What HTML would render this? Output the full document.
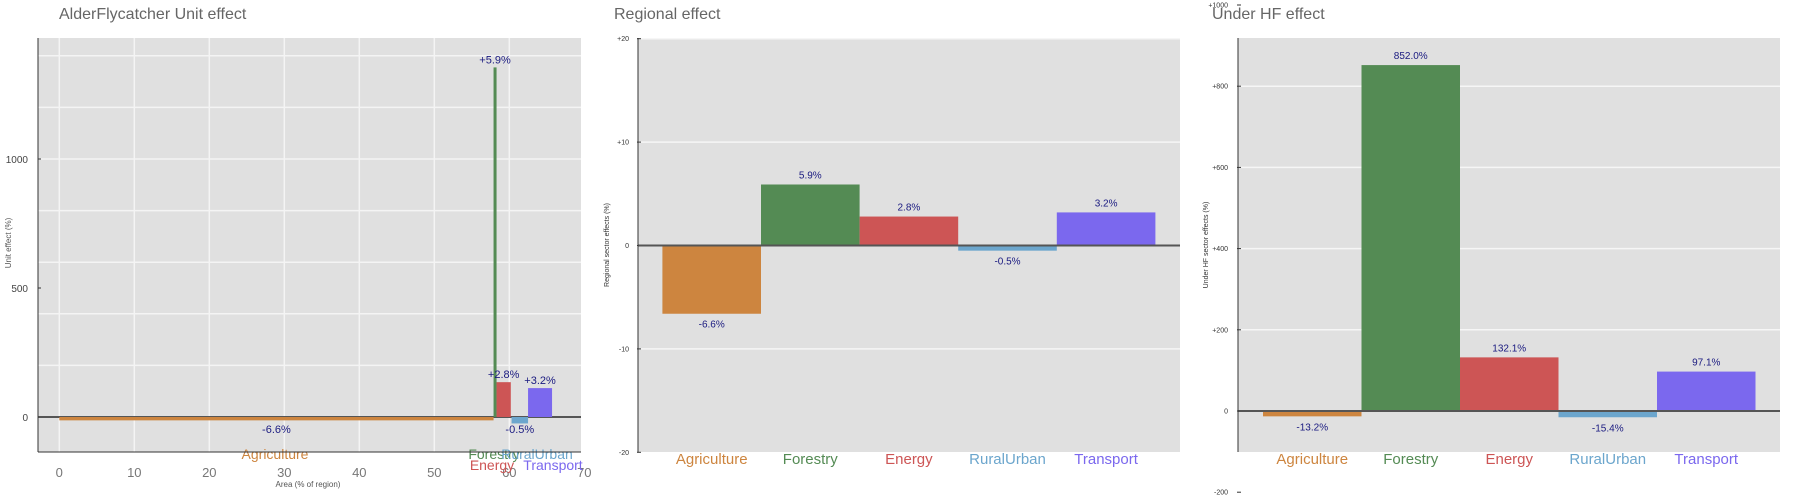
<!DOCTYPE html>
<html><head><meta charset="utf-8"><style>
html,body{margin:0;padding:0;background:#fff;}
svg{display:block;font-family:"Liberation Sans",sans-serif;}
</style></head><body>
<svg id="chart" width="1800" height="500" viewBox="0 0 1800 500" xmlns="http://www.w3.org/2000/svg"></svg>
<script>
const categories = ["Agriculture","Forestry","Energy","RuralUrban","Transport"];
const colors = ["#cd853f","#548b54","#cd5555","#6ca6cd","#7b68ee"];
// Panel 1: unit effect (area widths and unit effect heights)
const unitAreas = [57.9, 0.4, 1.9, 2.2, 3.2];
const unitAreaStarts = [0, 57.9, 58.3, 60.3, 62.5];
const unitValues = [-13, 1355, 135, -25, 112];
const unitLabels = ["-6.6%","+5.9%","+2.8%","-0.5%","+3.2%"];
const unitXTicks = [0,10,20,30,40,50,60,70];
const unitYTicks = [0,500,1000];
// Panel 2: regional effect
const regionalValues = [-6.6, 5.9, 2.8, -0.5, 3.2];
const regionalLabels = ["-6.6%","5.9%","2.8%","-0.5%","3.2%"];
const regionalTicks = [-20,-10,0,10,20];
const regionalTickLabels = ["-20","-10","0","+10","+20"];
// Panel 3: under HF effect
const hfValues = [-13.2, 852.0, 132.1, -15.4, 97.1];
const hfLabels = ["-13.2%","852.0%","132.1%","-15.4%","97.1%"];
const hfTicks = [-200,0,200,400,600,800,1000];
const hfTickLabels = ["-200","0","+200","+400","+600","+800","+1000"];

const svg = document.getElementById('chart');
const NS = "http://www.w3.org/2000/svg";
function mk(tag, attrs, parent){const e=document.createElementNS(NS,tag);for(const k in attrs)e.setAttribute(k,attrs[k]);(parent||svg).appendChild(e);return e;}
function txt(s, attrs, parent){const e=mk('text',attrs,parent);e.textContent=s;return e;}

// ---------- Panel 1 ----------
(function(){
  const L=38,R=581,T=38,B=452;
  const xs=v=>59.3+v*7.5;
  const ys=v=>417-v*(129/500);
  const g=mk('g',{});
  
  
  const t=txt("AlderFlycatcher Unit effect",{x:59,y:19,'font-size':16,fill:'#666'},g);
  
  
  const bg=mk('rect',{x:L,y:T,width:R-L,height:B-T,fill:'#e0e0e0'},g);
  
  
  for(let v=200;v<=1400;v+=200){const l=mk('line',{x1:L,x2:R,y1:ys(v),y2:ys(v),stroke:'#f4f4f4','stroke-width':1.5},g);
    
    }
  unitXTicks.forEach(v=>{ if(v<70){const l=mk('line',{x1:xs(v),x2:xs(v),y1:T,y2:B,stroke:'#f4f4f4','stroke-width':1.5},g);
    
    }
    const tl=txt(String(v),{x:xs(v),y:477,'font-size':13,fill:'#777','text-anchor':'middle'},g);
    
    
  });
  unitYTicks.forEach(v=>{const tl=txt(String(v),{x:28,y:ys(v)+4,'font-size':10,fill:'#444','text-anchor':'end'},g);
    
    
    mk('line',{x1:L,x2:L+3,y1:ys(v),y2:ys(v),stroke:'#333'},g);});
  mk('line',{x1:L,x2:R,y1:ys(0),y2:ys(0),stroke:'#555','stroke-width':2},g);
  categories.forEach((c,i)=>{
    const x0=xs(unitAreaStarts[i]), w=Math.max(unitAreas[i]*7.5,3), v=unitValues[i];
    const y=Math.min(ys(v),ys(0)), h=Math.abs(ys(v)-ys(0));
    const b=mk('rect',{x:x0,y:y,width:w,height:h,fill:colors[i]},g);
    
    
    const lx=x0+w/2, ly=v>=0?ys(v)-4:ys(0)+16;
    const vl=txt(unitLabels[i],{x:lx,y:ly,'font-size':11,fill:'#1a1a80','text-anchor':'middle'},g);
    
    
  });
  const catPos=[[275,459],[494,459],[492,470],[537,459],[553,470]];
  categories.forEach((c,i)=>{const cl=txt(c,{x:catPos[i][0],y:catPos[i][1],'font-size':14,fill:colors[i],'text-anchor':'middle'},g);
    
    });
  mk('line',{x1:L,x2:L,y1:T,y2:B,stroke:'#333'},g);
  mk('line',{x1:L,x2:R,y1:B,y2:B,stroke:'#333'},g);
  const xt=txt("Area (% of region)",{x:308,y:487,'font-size':8,fill:'#555','text-anchor':'middle'},g);
  
  
  const yt=txt("Unit effect (%)",{x:0,y:0,'font-size':8,fill:'#555','text-anchor':'middle',transform:'translate(11,243) rotate(-90)'},g);
  
  
})();

// ---------- bar panels ----------
function barPanel(opts){
  const {L,R,T,B,x0,band,ys,values,labels,ticks,tickLabels,grid,title,titleX,ytitle,ytitleX,name,tickX}=opts;
  const g=mk('g',{});
  
  
  const t=txt(title,{x:titleX,y:19,'font-size':16,fill:'#666'},g);
  
  
  const bg=mk('rect',{x:L,y:T,width:R-L,height:B-T,fill:'#e0e0e0'},g);
  
  
  grid.forEach(v=>{const l=mk('line',{x1:L,x2:R,y1:ys(v),y2:ys(v),stroke:'#f6f6f6','stroke-width':1.5},g);
    
    });
  ticks.forEach((v,i)=>{const tl=txt(tickLabels[i],{x:tickX,y:ys(v)+2.5,'font-size':7,fill:'#333','text-anchor':'end'},g);
    
    
    mk('line',{x1:L-1,x2:L+3,y1:ys(v),y2:ys(v),stroke:'#333'},g);});
  categories.forEach((c,i)=>{
    const x=x0+i*band, v=values[i];
    const y=Math.min(ys(v),ys(0)), h=Math.max(Math.abs(ys(v)-ys(0)),2);
    const b=mk('rect',{x:x,y:y,width:band,height:h,fill:colors[i]},g);
    
    
    const ly=v>=0?ys(v)-6:Math.max(ys(v),ys(0)+2)+14;
    const vl=txt(labels[i],{x:x+band/2,y:ly,'font-size':10,fill:'#1a1a80','text-anchor':'middle'},g);
    
    
    const cl=txt(c,{x:x+band/2,y:464,'font-size':15,fill:colors[i],'text-anchor':'middle'},g);
    
    
  });
  mk('line',{x1:L,x2:R,y1:ys(0),y2:ys(0),stroke:'#555','stroke-width':2},g);
  mk('line',{x1:L,x2:L,y1:T,y2:B,stroke:'#333'},g);
  const yt=txt(ytitle,{x:0,y:0,'font-size':7,fill:'#333','text-anchor':'middle',transform:'translate('+ytitleX+',245) rotate(-90)'},g);
  
  
  return g;
}
barPanel({L:638,R:1180,T:38,B:452,x0:662.4,band:98.6,ys:v=>245.5-v*10.34,
  values:regionalValues,labels:regionalLabels,ticks:regionalTicks,tickLabels:regionalTickLabels,
  grid:[-10,10,20],title:"Regional effect",titleX:614,ytitle:"Regional sector effects (%)",ytitleX:609,name:'regional',tickX:629});
barPanel({L:1238,R:1780,T:38,B:452,x0:1263,band:98.5,ys:v=>411-v*0.406,
  values:hfValues,labels:hfLabels,ticks:hfTicks,tickLabels:hfTickLabels,
  grid:[200,400,600,800],title:"Under HF effect",titleX:1212,ytitle:"Under HF sector effects (%)",ytitleX:1208,name:'hf',tickX:1228});
</script>
</body></html>
